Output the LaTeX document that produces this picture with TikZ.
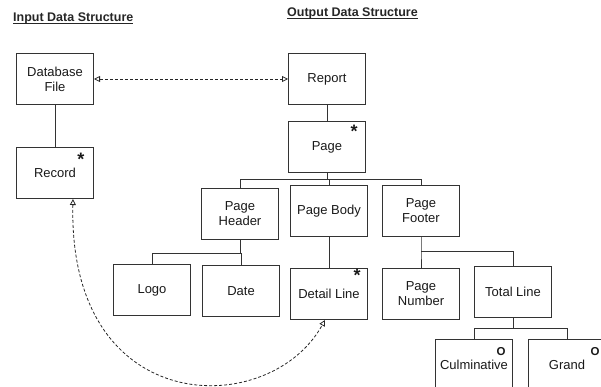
\documentclass[tikz,border=0pt]{standalone}
\usepackage{fontspec}
\setmainfont{Liberation Sans}
\usetikzlibrary{arrows.meta}
\newcommand\myul[1]{\setbox0\hbox{#1}\rlap{\rule[-2pt]{\wd0}{0.9pt}}\box0}
\begin{document}
\begin{tikzpicture}[x=1pt,y=-1pt,
  box/.style={draw=black!80, line width=1pt, minimum width=77pt, minimum height=51pt,
    inner sep=0pt, align=center, font=\fontsize{13}{15}\selectfont, anchor=north west, text=black!90},
  conn/.style={draw=black!80, line width=1pt},
  dashconn/.style={draw=black!85, line width=0.8pt, dash pattern=on 3pt off 2pt,
    {Triangle[open,length=6pt,width=6pt]}-{Triangle[open,length=6pt,width=6pt]}},
  star/.style={font=\fontsize{18}{18}\bfseries\selectfont, inner sep=0pt, text=black!90},
  opt/.style={font=\fontsize{11.5}{11.5}\bfseries\selectfont, inner sep=0pt, text=black!90},
  title/.style={font=\fontsize{12.5}{14}\bfseries\selectfont, inner sep=0pt, anchor=base west, text=black!85}]
\useasboundingbox (0,0) rectangle (601,387);
\clip (0,0) rectangle (601,387);

\node[title] (tin) at (13,21.5) {\myul{Input Data Structure}};
\node[title] (tout) at (287,16.5) {\myul{Output Data Structure}};

\node[box] (db) at (16,53) {Database\\File};
\node[box] (rec) at (16,147) {Record};
\node[box] (rep) at (288,53) {Report};
\node[box] (page) at (288,121) {Page};
\node[box] (ph) at (201,188) {Page\\Header};
\node[box] (pb) at (290,185) {Page Body};
\node[box] (pf) at (382,185) {Page\\Footer};
\node[box] (logo) at (113,264) {Logo};
\node[box] (date) at (202,265) {Date};
\node[box] (dl) at (290,268) {Detail Line};
\node[box] (pn) at (382,268) {Page\\Number};
\node[box] (tl) at (474,266) {Total Line};
\node[box] (cul) at (435,339) {Culminative};
\node[box] (gr) at (528,339) {Grand};

\node[star] (s1) at (81,159) {*};
\node[star] (s2) at (354,131) {*};
\node[star] (s3) at (357,275) {*};
\node[opt] (o1) at (501,352) {O};
\node[opt] (o2) at (595,352) {O};

\draw[conn] (db.south) -- (rec.north);
\draw[conn] (rep.south) -- (page.north);
\draw[conn] (page.south) -- ++(0,7) -| (ph.north);
\draw[conn] (page.south) ++(0,7) -| (pf.north);
\draw[conn] (pb.north) -- ++(0,-6);
\draw[conn] (ph.south) -- ++(0,13) -| (logo.north);
\draw[conn] (ph.south) ++(0,13) -| (date.north);
\draw[conn] (pb.south) -- (dl.north);
\draw[conn] (pf.south) -- ++(0,14) -| (pn.north);
\draw[conn] (pf.south) ++(0,14) -| (tl.north);
\draw[conn] (tl.south) -- ++(0,10) -| (cul.north);
\draw[conn] (tl.south) ++(0,10) -| (gr.north);

\draw[dashconn] (db.east) -- (rep.west);
\draw[dashconn] ([xshift=18pt]rec.south) .. controls (68,420) and (270,420) .. ([xshift=-4pt]dl.south);
\end{tikzpicture}
\end{document}
